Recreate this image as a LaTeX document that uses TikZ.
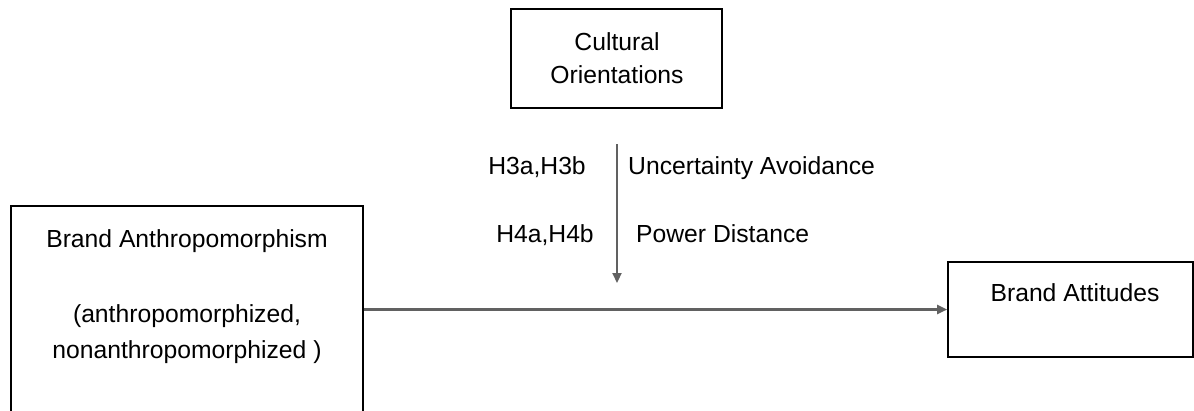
\documentclass[tikz,border=0pt]{standalone}
\usepackage{fontspec}
\setmainfont{Liberation Sans}
\usetikzlibrary{arrows.meta}
\begin{document}
\begin{tikzpicture}[x=1pt,y=-1pt,
  box/.style={draw=black,line width=1.6pt,inner sep=0pt},
  lbl/.style={font=\fontsize{24.7}{33}\selectfont,text=black,anchor=base,inner sep=0pt},
  arr/.style={draw=black!62,line width=2.2pt,-{Triangle[length=10pt,width=9pt]}}]
\useasboundingbox (0,0) rectangle (1194,410);
\clip (0,0) rectangle (1194,410);
% boxes
\node[box,minimum width=211pt,minimum height=99pt] (co) at (616.5,58.5) {};
\node[box,minimum width=352pt,minimum height=230pt] (ba) at (187,321) {};
\node[box,minimum width=245pt,minimum height=95pt] (att) at (1070.5,309.5) {};
% texts
\node[lbl] (t1) at (617,50) {Cultural};
\node[lbl] (t2) at (617,83) {Orientations};
\node[lbl] (t3) at (187,247) {Brand Anthropomorphism};
\node[lbl] (t4) at (187,322) {(anthropomorphized,};
\node[lbl] (t5) at (187,358) {nonanthropomorphized )};
\node[lbl] (t6) at (1075,301) {Brand Attitudes};
\node[lbl] (h3) at (537,174) {H3a,H3b};
\node[lbl,anchor=base west] (ua) at (628,174) {Uncertainty Avoidance};
\node[lbl] (h4) at (545,242) {H4a,H4b};
\node[lbl,anchor=base west] (pd) at (636,242) {Power Distance};
% connectors
\coordinate (ms) at (617,144);
\coordinate (me) at (617,283);
\draw[arr] (ms) -- (me);
\draw[arr] (att.west -| ba.east) -- (att.west);
\end{tikzpicture}
\end{document}
